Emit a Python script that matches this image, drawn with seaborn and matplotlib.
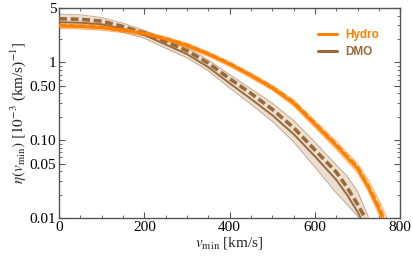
import numpy as np
import pandas as pd
import matplotlib
matplotlib.use("Agg")
import matplotlib.pyplot as plt
from matplotlib.ticker import MultipleLocator, FixedLocator, LogLocator, NullFormatter
from matplotlib.lines import Line2D
import seaborn as sns

# values (eta in 1e-3 (km/s)^-1)
v_hydro = [0, 50, 100, 150, 200, 250, 300, 350, 400, 450, 500, 550, 600, 650, 700, 725, 750, 775]
eta_hydro = [2.95, 2.9, 2.8, 2.6, 2.35, 2.0, 1.65, 1.28, 0.95, 0.68, 0.47, 0.30, 0.16, 0.085,
             0.043, 0.025, 0.013, 0.006]
eta_hydro_mean = [3.0, 2.95, 2.85, 2.64, 2.38, 2.03, 1.68, 1.3, 0.97, 0.69, 0.48, 0.31, 0.165,
                  0.088, 0.045, 0.026, 0.014, 0.0065]
hydro_lo = [2.75, 2.7, 2.6, 2.42, 2.2, 1.87, 1.54, 1.2, 0.89, 0.63, 0.44, 0.275, 0.145, 0.076,
            0.038, 0.022, 0.011, 0.005]
hydro_hi = [3.15, 3.1, 3.0, 2.78, 2.52, 2.14, 1.77, 1.37, 1.02, 0.73, 0.51, 0.33, 0.18, 0.097,
            0.05, 0.031, 0.017, 0.0085]

v_dmo = [0, 50, 100, 150, 200, 250, 300, 350, 400, 450, 500, 550, 600, 650, 675, 700, 725]
eta_dmo = [3.3, 3.25, 3.1, 2.7, 2.25, 1.7, 1.28, 0.87, 0.54, 0.34, 0.21, 0.12, 0.062, 0.031,
           0.02, 0.012, 0.0065]
eta_dmo_mean = [3.65, 3.6, 3.4, 2.9, 2.4, 1.85, 1.42, 0.98, 0.62, 0.40, 0.25, 0.145, 0.075,
                0.039, 0.025, 0.015, 0.0085]
dmo_lo = [3.0, 2.95, 2.8, 2.45, 2.05, 1.52, 1.15, 0.78, 0.47, 0.29, 0.175, 0.095, 0.045,
          0.021, 0.015, 0.0105, 0.005]
dmo_hi = [4.2, 4.1, 3.8, 3.2, 2.6, 2.0, 1.55, 1.08, 0.70, 0.46, 0.30, 0.18, 0.095, 0.048,
          0.035, 0.022, 0.0105]

hydro_col = "#ff7f00"
dmo_col = "#9a6a3a"

sns.set_style("ticks")
plt.rcParams["font.family"] = ["Liberation Serif", "DejaVu Serif"]
plt.rcParams["mathtext.fontset"] = "stix"

fig = plt.figure(figsize=(4.13, 2.62), dpi=100)
ax = fig.add_axes([0.143, 0.168, 0.826, 0.801])

df_h = pd.DataFrame({"v": v_hydro, "eta": eta_hydro, "mean": eta_hydro_mean})
df_d = pd.DataFrame({"v": v_dmo, "eta": eta_dmo, "mean": eta_dmo_mean})

# bands
ax.fill_between(v_dmo, dmo_lo, dmo_hi, color="#ebdfd2", lw=0, zorder=1)
ax.plot(v_dmo, dmo_lo, color=dmo_col, lw=0.6, alpha=0.6, zorder=2)
ax.plot(v_dmo, dmo_hi, color=dmo_col, lw=0.6, alpha=0.6, zorder=2)
ax.fill_between(v_hydro, hydro_lo, hydro_hi, color="#ffd6ad", lw=0, alpha=0.8, zorder=1)
ax.plot(v_hydro, hydro_lo, color=hydro_col, lw=0.6, alpha=0.6, zorder=2)
ax.plot(v_hydro, hydro_hi, color=hydro_col, lw=0.6, alpha=0.6, zorder=2)

# central lines
sns.lineplot(data=df_d, x="v", y="eta", color=dmo_col, lw=1.4, ax=ax, zorder=3)
sns.lineplot(data=df_d, x="v", y="mean", color=dmo_col, lw=2.6, ax=ax, zorder=4,
             linestyle=(0, (2.2, 1.0)))
sns.lineplot(data=df_h, x="v", y="eta", color=hydro_col, lw=2.2, ax=ax, zorder=5)
sns.lineplot(data=df_h, x="v", y="mean", color=hydro_col, lw=2.2, ax=ax, zorder=6,
             linestyle=(0, (2.2, 1.0)))

ax.set_yscale("log")
ax.set_xlim(0, 800)
ax.set_ylim(0.01, 5)
ax.xaxis.set_major_locator(MultipleLocator(200))
ax.xaxis.set_minor_locator(MultipleLocator(50))
ax.yaxis.set_major_locator(FixedLocator([0.01, 0.05, 0.1, 0.5, 1, 5]))
ax.set_yticklabels(["0.01", "0.05", "0.10", "0.50", "1", "5"])
ax.yaxis.set_minor_locator(LogLocator(base=10, subs=np.arange(2, 10)))
ax.yaxis.set_minor_formatter(NullFormatter())
ax.tick_params(which="both", direction="in", top=True, right=True, labelsize=11,
               colors="#555555", labelcolor="black", pad=2)
ax.tick_params(which="major", length=4, width=0.8)
ax.tick_params(which="minor", length=2, width=0.6)
for s in ax.spines.values():
    s.set_color("#555555")
    s.set_linewidth(1.0)

ax.set_xlabel(r"$v_{\rm min}$ [km/s]", fontsize=11, labelpad=1)
ax.set_ylabel(r"$\eta(v_{\rm min})$ $[10^{-3}$ (km/s)$^{-1}]$", fontsize=11, labelpad=1)

handles = [Line2D([], [], color=hydro_col, lw=2.2), Line2D([], [], color=dmo_col, lw=2.2)]
leg = ax.legend(handles, ["Hydro", "DMO"], loc="upper right", frameon=False,
                bbox_to_anchor=(0.97, 0.95), handlelength=1.6, handletextpad=0.7,
                labelspacing=0.4, prop={"family": "Liberation Sans", "weight": "bold", "size": 8.5})
for t, c in zip(leg.get_texts(), [hydro_col, dmo_col]):
    t.set_color(c)

fig.savefig("out.png", dpi=100)
